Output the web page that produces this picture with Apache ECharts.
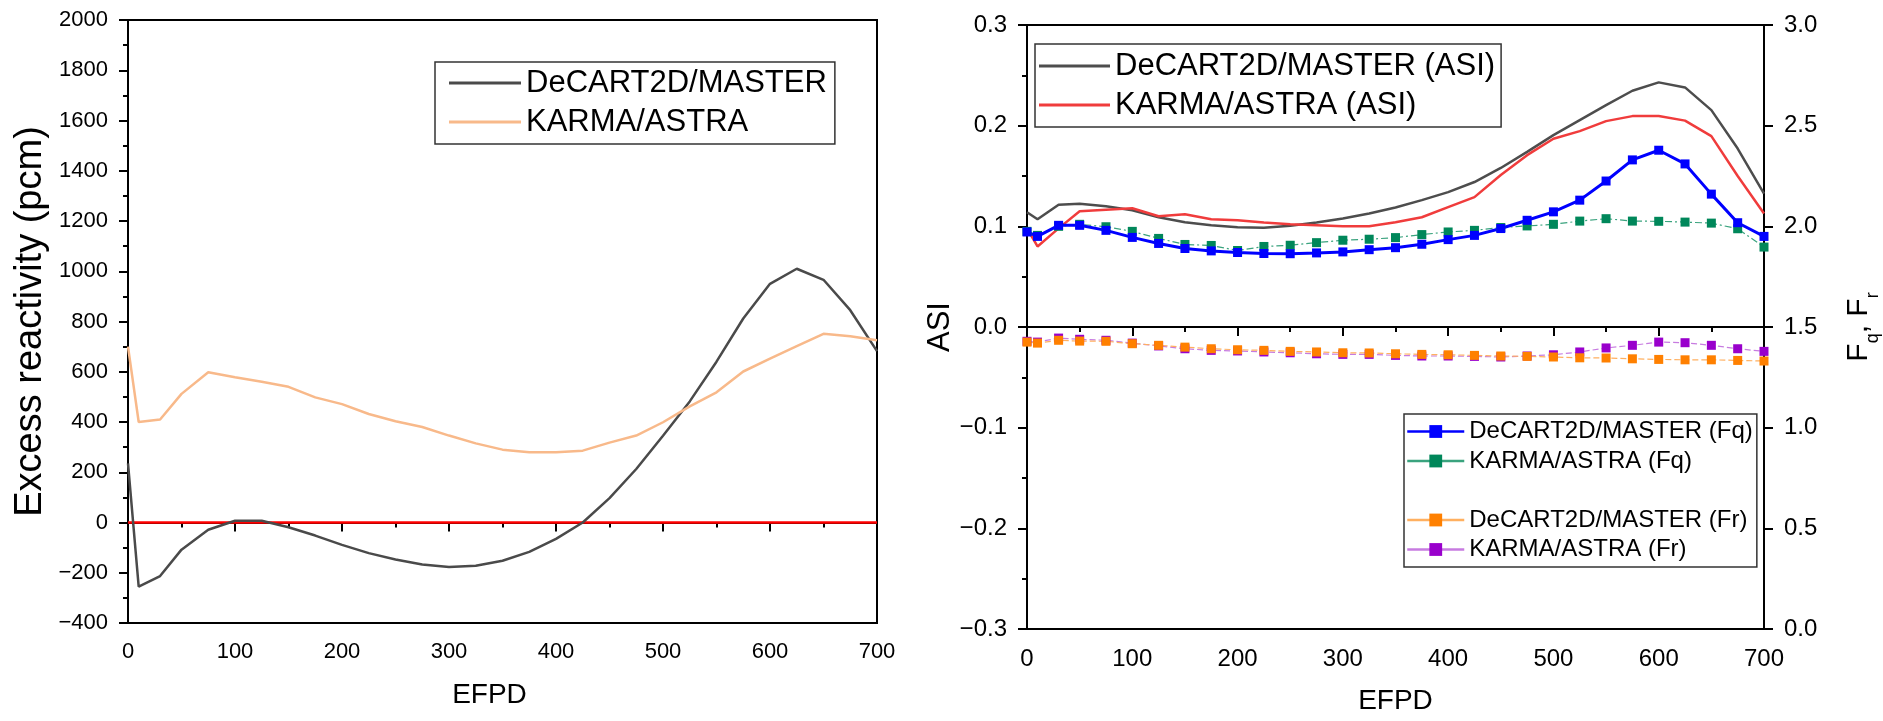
<!DOCTYPE html>
<html>
<head>
<meta charset="utf-8">
<script src="https://cdn.jsdelivr.net/npm/echarts@6/dist/echarts.min.js"></script>
<style>
  html, body { margin: 0; padding: 0; background: #fff; }
  #chart { width: 1883px; height: 721px; }
</style>
</head>
<body>
<div id="chart"></div>
<script>
// EFPD points (both panels)
var days = [0, 10, 30, 50, 75, 100, 125, 150, 175, 200, 225, 250, 275, 300, 325, 350,
  375, 400, 425, 450, 475, 500, 525, 550, 575, 600, 625, 650, 675, 700];

// left panel: excess reactivity (pcm)
var rhoDecart = [235, -255, -213, -108, -29, 7, 7, -19, -52, -89, -122, -147, -167, -177, -172, -152,
  -117, -65, 0, 97, 213, 345, 482, 640, 812, 950, 1010, 966, 845, 682];
var rhoKarma = [700, 400, 410, 512, 598, 578, 560, 540, 498, 471, 432, 403, 380, 346, 315, 290,
  280, 280, 286, 318, 346, 399, 462, 518, 601, 652, 702, 751, 741, 725];
var zeroX = [0, 700];
var zeroY = [0, 0];

// right panel: ASI
var asiDecart = [0.114, 0.107, 0.1215, 0.1225, 0.120, 0.116, 0.109, 0.104, 0.101, 0.099, 0.0985, 0.1005, 0.1037, 0.1077, 0.1127, 0.1187,
  0.126, 0.134, 0.144, 0.158, 0.174, 0.1906, 0.2055, 0.2204, 0.2347, 0.243, 0.238, 0.2154, 0.1773, 0.1326];
var asiKarma = [0.098, 0.080, 0.098, 0.115, 0.1165, 0.118, 0.110, 0.112, 0.107, 0.106, 0.1037, 0.102, 0.101, 0.100, 0.100, 0.104,
  0.109, 0.119, 0.129, 0.151, 0.1707, 0.187, 0.1946, 0.2045, 0.2095, 0.2095, 0.205, 0.1896, 0.150, 0.1127];

// right panel: Fq, Fr (right axis)
var fqDecart = [1.972, 1.95, 2.005, 2.005, 1.98, 1.945, 1.915, 1.89, 1.878, 1.87, 1.865, 1.864, 1.868, 1.873, 1.884, 1.894,
  1.911, 1.934, 1.955, 1.989, 2.03, 2.072, 2.13, 2.225, 2.33, 2.378, 2.31, 2.16, 2.018, 1.95];
var fqKarma = [1.975, 1.955, 2.0, 2.01, 1.998, 1.975, 1.94, 1.91, 1.905, 1.88, 1.9, 1.906, 1.919, 1.931, 1.936, 1.944,
  1.959, 1.972, 1.98, 1.994, 2.002, 2.01, 2.026, 2.038, 2.026, 2.025, 2.021, 2.016, 1.988, 1.897];
var frDecart = [1.425, 1.42, 1.434, 1.43, 1.429, 1.417, 1.409, 1.40, 1.392, 1.387, 1.384, 1.379, 1.376, 1.372, 1.371, 1.367,
  1.364, 1.362, 1.359, 1.356, 1.354, 1.351, 1.347, 1.346, 1.342, 1.339, 1.337, 1.337, 1.334, 1.331];
var frKarma = [1.429, 1.425, 1.445, 1.439, 1.434, 1.42, 1.406, 1.392, 1.384, 1.381, 1.376, 1.372, 1.367, 1.364, 1.364, 1.359,
  1.356, 1.356, 1.354, 1.351, 1.356, 1.362, 1.376, 1.396, 1.409, 1.425, 1.422, 1.409, 1.392, 1.379];

function pairs(xs, ys) {
  var out = [];
  for (var i = 0; i < xs.length; i++) out.push([xs[i], ys[i]]);
  return out;
}

var FONT = "'Liberation Sans', Arial, sans-serif";
var black = '#000';

function minus(v, digits) {
  var s = digits ? Math.abs(v).toFixed(digits) : String(Math.abs(v));
  return (v < 0 ? '\u2212' : '') + s;
}

function xAxisCfg(grid, size, pad) {
  return {
    type: 'value', gridIndex: grid, min: 0, max: 700, interval: 100,
    name: 'EFPD', nameLocation: 'middle', nameGap: 58,
    nameTextStyle: { fontFamily: FONT, fontSize: 28, color: black, padding: pad },
    axisLine: { lineStyle: { color: black, width: 2 } },
    axisTick: { show: true, inside: false, length: 9, lineStyle: { width: 2, color: black } },
    minorTick: { show: true, splitNumber: 2, length: 5, lineStyle: { width: 2, color: black } },
    axisLabel: { fontFamily: FONT, fontSize: size, color: black, margin: 18 },
    splitLine: { show: false }
  };
}

var option = {
  backgroundColor: '#fff',
  animation: false,
  grid: [
    { left: 128, top: 20, width: 749, height: 603, show: true, borderColor: black, borderWidth: 2 },
    { left: 1027, top: 25, width: 747, height: 604, show: true, borderColor: black, borderWidth: 2 }
  ],
  xAxis: [xAxisCfg(0, 22, [0, 26, 0, 0]), xAxisCfg(1, 24, 0)],
  yAxis: [
    {
      type: 'value', gridIndex: 0, min: -400, max: 2000, interval: 200,
      name: 'Excess reactivity (pcm)', nameLocation: 'middle', nameGap: 78,
      nameTextStyle: { fontFamily: FONT, fontSize: 38, color: black },
      axisLine: { show: true, lineStyle: { color: black, width: 2 } },
      axisTick: { show: true, length: 9, lineStyle: { width: 2, color: black } },
      minorTick: { show: true, splitNumber: 2, length: 5, lineStyle: { width: 2, color: black } },
      axisLabel: { fontFamily: FONT, fontSize: 22, color: black, margin: 20,
        formatter: function (v) { return minus(v); } },
      splitLine: { show: false }
    },
    {
      type: 'value', gridIndex: 1, min: -0.3, max: 0.3, interval: 0.1,
      name: 'ASI', nameLocation: 'middle', nameGap: 50,
      nameTextStyle: { fontFamily: FONT, fontSize: 31, color: black },
      axisLine: { show: true, lineStyle: { color: black, width: 2 } },
      axisTick: { show: true, length: 9, lineStyle: { width: 2, color: black } },
      minorTick: { show: true, splitNumber: 2, length: 5, lineStyle: { width: 2, color: black } },
      axisLabel: { fontFamily: FONT, fontSize: 24, color: black, margin: 20,
        formatter: function (v) { return minus(v, 1); } },
      splitLine: { show: false }
    },
    {
      type: 'value', gridIndex: 1, position: 'right', min: 0, max: 3, interval: 0.5,
      name: 'F{s|q}, F{s|r}', nameLocation: 'middle', nameGap: 80, nameRotate: 90,
      nameTextStyle: { fontFamily: FONT, fontSize: 30, color: black,
        rich: { s: { fontFamily: FONT, fontSize: 18, verticalAlign: 'bottom', padding: [0, 0, -8, 0] } } },
      axisLine: { show: true, lineStyle: { color: black, width: 2 } },
      axisTick: { show: true, length: 9, lineStyle: { width: 2, color: black } },
      axisLabel: { fontFamily: FONT, fontSize: 24, color: black, margin: 20,
        formatter: function (v) { return v.toFixed(1); } },
      splitLine: { show: false }
    }
  ],
  legend: [
    {
      orient: 'vertical', left: 435, top: 62, padding: [5, 8, 6, 14],
      borderColor: '#333', borderWidth: 1.5, icon: 'rect', itemWidth: 72, itemHeight: 3, itemGap: 7,
      textStyle: { fontFamily: FONT, fontSize: 31, color: black, lineHeight: 32 },
      data: ['DeCART2D/MASTER', 'KARMA/ASTRA']
    },
    {
      orient: 'vertical', left: 1035, top: 44, padding: [6, 6, 6, 4],
      borderColor: '#333', borderWidth: 1.5, icon: 'rect', itemWidth: 71, itemHeight: 3, itemGap: 7,
      textStyle: { fontFamily: FONT, fontSize: 31, color: black, lineHeight: 32 },
      data: ['DeCART2D/MASTER (ASI)', 'KARMA/ASTRA (ASI)']
    },
    {
      orient: 'vertical', left: 1404, top: 414, padding: [4, 4, 4, 2],
      borderColor: '#333', borderWidth: 1.5, itemWidth: 57, itemHeight: 16, itemGap: 2.5,
      lineStyle: { width: 2.5, type: 'solid' },
      textStyle: { fontFamily: FONT, fontSize: 24, color: black, lineHeight: 27 },
      data: ['DeCART2D/MASTER (Fq)', 'KARMA/ASTRA (Fq)', ' ', 'DeCART2D/MASTER (Fr)', 'KARMA/ASTRA (Fr)']
    }
  ],
  series: [
    { name: 'zero', type: 'line', xAxisIndex: 0, yAxisIndex: 0, data: pairs(zeroX, zeroY),
      symbol: 'none', lineStyle: { color: '#ff0000', width: 2.5 }, z: 1 },
    { name: 'DeCART2D/MASTER', type: 'line', xAxisIndex: 0, yAxisIndex: 0, data: pairs(days, rhoDecart),
      symbol: 'none', color: '#4a4a4a', lineStyle: { color: '#4a4a4a', width: 2.5 } },
    { name: 'KARMA/ASTRA', type: 'line', xAxisIndex: 0, yAxisIndex: 0, data: pairs(days, rhoKarma),
      symbol: 'none', color: '#f8b98a', lineStyle: { color: '#f8b98a', width: 2.5 } },

    { name: 'DeCART2D/MASTER (ASI)', type: 'line', xAxisIndex: 1, yAxisIndex: 1, data: pairs(days, asiDecart),
      symbol: 'none', color: '#4d4d4d', lineStyle: { color: '#4d4d4d', width: 2.5 } },
    { name: 'KARMA/ASTRA (ASI)', type: 'line', xAxisIndex: 1, yAxisIndex: 1, data: pairs(days, asiKarma),
      symbol: 'none', color: '#f03c3c', lineStyle: { color: '#f03c3c', width: 2.5 } },

    { name: 'KARMA/ASTRA (Fq)', type: 'line', xAxisIndex: 1, yAxisIndex: 2, data: pairs(days, fqKarma),
      symbol: 'rect', symbolSize: 9, color: '#00875a',
      itemStyle: { color: '#00875a' }, lineStyle: { color: '#3aa37e', width: 1.2, type: [7, 3, 2, 3] } },
    { name: 'DeCART2D/MASTER (Fq)', type: 'line', xAxisIndex: 1, yAxisIndex: 2, data: pairs(days, fqDecart),
      symbol: 'rect', symbolSize: 9, color: '#0000ff',
      itemStyle: { color: '#0000ff' }, lineStyle: { color: '#0000ff', width: 3 } },
    { name: ' ', type: 'line', xAxisIndex: 1, yAxisIndex: 2, data: [],
      symbol: 'none', color: 'rgba(0,0,0,0)', lineStyle: { opacity: 0 } },
    { name: 'KARMA/ASTRA (Fr)', type: 'line', xAxisIndex: 1, yAxisIndex: 2, data: pairs(days, frKarma),
      symbol: 'rect', symbolSize: 9, color: '#9900cc',
      itemStyle: { color: '#9900cc' }, lineStyle: { color: '#c77be0', width: 1.2, type: [6, 3] } },
    { name: 'DeCART2D/MASTER (Fr)', type: 'line', xAxisIndex: 1, yAxisIndex: 2, data: pairs(days, frDecart),
      symbol: 'rect', symbolSize: 9, color: '#ff8000',
      itemStyle: { color: '#ff8000' }, lineStyle: { color: '#ffb060', width: 1.2, type: [6, 3] } }
  ]
};

var myChart = echarts.init(document.getElementById('chart'));
myChart.setOption(option);
</script>
</body>
</html>
